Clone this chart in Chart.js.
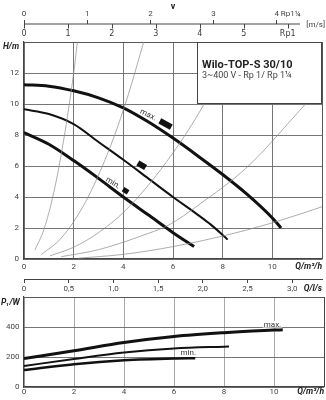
<!DOCTYPE html>
<html><head><meta charset="utf-8">
<script src="https://cdn.jsdelivr.net/npm/chart.js@4.4.1/dist/chart.umd.min.js"></script>
<style>
html,body{margin:0;padding:0;background:#fff;width:326px;height:400px;overflow:hidden}
#c1{position:absolute;left:0;top:0}
#c2{position:absolute;left:0;top:294px}
</style></head><body>
<canvas id="c1" width="326" height="296"></canvas>
<canvas id="c2" width="326" height="106"></canvas>
<script>
// ---- data ----
const qMax = [0, 1, 2, 3, 4, 5, 6, 7, 8, 9, 10, 10.35];
const hMax = [11.25, 11.15, 10.85, 10.4, 9.75, 8.85, 7.8, 6.65, 5.45, 4.15, 2.65, 2.0];
const qMid = [0, 1, 2, 3, 4, 5, 6, 7, 7.5, 8, 8.2];
const hMid = [9.66, 9.35, 8.7, 7.55, 6.4, 5.2, 4.0, 2.85, 2.25, 1.55, 1.25];
const qMin = [0, 1, 2, 3, 4, 5, 6, 6.85];
const hMin = [8.15, 7.4, 6.35, 5.2, 4.0, 2.85, 1.7, 0.8];

const qSys1 = [0.44, 0.8, 1.2, 1.6, 2.0, 2.15];
const hSys1 = [0.58, 1.9, 4.3, 7.7, 12.0, 14.0];
const qSys2 = [0.7, 1.5, 2.5, 3.5, 4.2, 4.82];
const hSys2 = [0.29, 1.35, 3.75, 7.35, 10.6, 14.0];
const qSys3 = [1.04, 2, 3, 4, 5, 6, 7, 8, 8.6];
const hSys3 = [0.2, 0.76, 1.7, 3.0, 4.75, 6.85, 9.3, 12.2, 14.0];
const qSys4 = [1.5, 3, 5, 5.84, 7, 9, 11, 12];
const hSys4 = [0.15, 0.6, 1.65, 2.2, 3.45, 5.95, 9.4, 11.2];
const qSys5 = [2.17, 4, 6, 8, 10, 12];
const hSys5 = [0.05, 0.3, 0.8, 1.48, 2.33, 3.37];

const markQ = [5.7, 4.74, 4.09];
const markH = [8.71, 6.05, 4.4];

const pQMax = [0, 2, 4, 6, 8, 10, 10.35];
const pMax  = [190, 242, 297, 337, 362, 380, 381];
const pQMid = [0, 2, 4, 6, 8, 8.2];
const pMid  = [140, 187, 230, 257, 269, 270];
const pQMin = [0, 2, 4, 6, 6.85];
const pMin  = [113, 152, 178, 190, 192];

// axis definitions / tick labels
const qMaxAxis = 12;          // m³/h
const hMaxAxis = 14;          // m
const pMaxAxis = 600;         // W
const lsPerM3h = 1 / 3.6;     // l/s per m³/h
const flowPerVRp1 = 1.77;     // m³/h per m/s (Rp1)
const flowPerVRp114 = 2.545;  // m³/h per m/s (Rp1¼)
const vTicksRp1 = [0, 1, 2, 3, 4, 5, 6];
const vLabelsRp1 = ['0', '1', '2', '3', '4', '5', 'Rp1'];
const legendTitle = 'Wilo-TOP-S 30/10';
const legendSub = '3~400 V - Rp 1/ Rp 1¼';

// ---- styling ----
const FONT = 'Roboto';
const tickFont = {family: FONT, size: 8};
const TICK = '#444';
const GRID = '#666';
const FRAME = '#444';
const SYS = '#8a8a8a';

function fit(h){ return s => { s.height = h; s.paddingLeft = 0; s.paddingRight = 0; }; }
function fitY(w){ return s => { s.width = w; s.paddingTop = 0; s.paddingBottom = 0; }; }
const pts = (xs, ys) => xs.map((x, i) => ({x: x, y: ys[i]}));
function lineDS(xs, ys, w, color){
  return {type: 'line', data: pts(xs, ys), borderColor: color, borderWidth: w,
    pointRadius: 0, fill: false, cubicInterpolationMode: 'monotone', borderCapStyle: 'butt'};
}
function block(w, h){
  const c = document.createElement('canvas'); c.width = w; c.height = h;
  const g = c.getContext('2d'); g.fillStyle = '#111'; g.fillRect(0, 0, w, h); return c;
}
function rotText(ctx, txt, px, py, deg, font, color){
  ctx.save(); ctx.translate(px, py); ctx.rotate(deg * Math.PI / 180);
  ctx.font = font; ctx.fillStyle = color; ctx.textAlign = 'center'; ctx.textBaseline = 'middle';
  ctx.fillText(txt, 0, 0); ctx.restore();
}

const topDeco = {
  id: 'topDeco',
  afterDatasetsDraw(chart){
    const {ctx, chartArea: a, scales: {x, y}} = chart;
    const bx = Math.round(x.getPixelForValue(6.96)), by = Math.round(y.getPixelForValue(10.06));
    ctx.save();
    ctx.fillStyle = '#fff';
    ctx.fillRect(bx, a.top, a.right - bx, by - a.top);
    ctx.strokeStyle = FRAME; ctx.lineWidth = 1;
    ctx.strokeRect(bx + 0.5, Math.round(a.top) + 0.5, a.right - bx - 1, by - Math.round(a.top));
    ctx.fillStyle = '#222'; ctx.textAlign = 'left'; ctx.textBaseline = 'middle';
    ctx.font = 'bold 11px ' + FONT; ctx.fillText(legendTitle, bx + 5, a.top + 23);
    ctx.fillStyle = '#444';
    ctx.font = '9px ' + FONT; ctx.fillText(legendSub, bx + 5, a.top + 34);
    rotText(ctx, 'max.', x.getPixelForValue(5.0), y.getPixelForValue(9.29), 26, '8px ' + FONT, '#333');
    rotText(ctx, 'min.', x.getPixelForValue(3.58), y.getPixelForValue(4.9), 32, '8px ' + FONT, '#333');
    ctx.restore();
  },
  afterDraw(chart){
    const {ctx, chartArea: a, scales: {x, v2}} = chart;
    ctx.save();
    // velocity axis line
    const ly = Math.round(v2.bottom);
    ctx.strokeStyle = FRAME; ctx.lineWidth = 1;
    ctx.beginPath(); ctx.moveTo(a.left, ly); ctx.lineTo(a.right - 22, ly); ctx.stroke();
    // Rp1 row: downward tick marks and labels below the line (positioned through the Q scale)
    for (let i = 0; i < vTicksRp1.length; i++) {
      const px = Math.round(x.getPixelForValue(vTicksRp1[i] * flowPerVRp1)) + 0.5;
      ctx.strokeStyle = '#444'; ctx.lineWidth = 1;
      ctx.beginPath(); ctx.moveTo(px, ly); ctx.lineTo(px, ly + 4.5); ctx.stroke();
    }
    ctx.font = '8px "DejaVu Sans"';
    ctx.textAlign = 'center';
    ctx.textBaseline = 'middle';
    ctx.fillStyle = '#3a3a3a';
    for (let i = 0; i < vTicksRp1.length; i++) {
      const px = x.getPixelForValue(vTicksRp1[i] * flowPerVRp1);
      ctx.fillText(vLabelsRp1[i], px, ly + 10);
    }
    ctx.fillStyle = TICK;
    ctx.font = '8px ' + FONT;
    ctx.textAlign = 'left';
    ctx.fillText('Rp1¼', v2.getPixelForValue(4) + 4, 14);
    ctx.textAlign = 'right';
    ctx.fillText('[m/s]', 325, ly + 1);
    ctx.fillStyle = '#222';
    ctx.font = 'bold 9px ' + FONT; ctx.textAlign = 'center';
    ctx.fillText('v', x.getPixelForValue(6), 7);
    ctx.font = 'italic bold 8.5px ' + FONT; ctx.textAlign = 'left';
    ctx.fillText('H/m', 3, a.top + 5);
    ctx.textAlign = 'right';
    ctx.fillText('Q/m³/h', a.right, 267);
    ctx.fillText('Q/l/s', a.right, 288.5);
    ctx.restore();
  }
};

new Chart(document.getElementById('c1'), {
  type: 'line',
  data: {datasets: [
    lineDS(qSys1, hSys1, 0.7, SYS),
    lineDS(qSys2, hSys2, 0.7, SYS),
    lineDS(qSys3, hSys3, 0.7, SYS),
    lineDS(qSys4, hSys4, 0.7, SYS),
    lineDS(qSys5, hSys5, 0.7, SYS),
    lineDS(qMax, hMax, 3, '#111'),
    lineDS(qMid, hMid, 2, '#111'),
    lineDS(qMin, hMin, 3, '#111'),
    {type: 'scatter', data: pts(markQ, markH), pointStyle: [block(13, 6), block(9, 6), block(6, 5)],
     rotation: [28, 30, 32], pointRadius: 4, borderWidth: 0}
  ]},
  options: {
    responsive: false, animation: false, devicePixelRatio: 1,
    layout: {padding: {left: 0, right: 2, top: 0, bottom: 0}},
    plugins: {legend: {display: false}, tooltip: {enabled: false}},
    scales: {
      x: {type: 'linear', position: 'bottom', weight: 0, min: 0, max: qMaxAxis,
        ticks: {stepSize: 2, font: tickFont, color: TICK, padding: 3, maxRotation: 0, autoSkip: false,
          callback: v => v === qMaxAxis ? '' : String(v)},
        grid: {color: c => c.tick && c.tick.value === qMaxAxis ? FRAME : GRID, lineWidth: 0.9, drawTicks: false},
        border: {color: FRAME, width: 1.2},
        afterFit: fit(20)},
      xls: {type: 'linear', position: 'bottom', weight: 1, min: 0, max: qMaxAxis * lsPerM3h,
        ticks: {stepSize: 0.5, includeBounds: false, font: tickFont, color: TICK, padding: 0.7, maxRotation: 0, autoSkip: false,
          callback: v => v === 0 ? '0' : v.toFixed(1).replace('.', ',')},
        grid: {drawOnChartArea: false, drawTicks: true, tickLength: 4, color: FRAME},
        border: {color: FRAME, width: 1},
        afterFit: fit(17)},
      y: {type: 'linear', position: 'left', min: 0, max: hMaxAxis,
        ticks: {stepSize: 2, font: tickFont, color: TICK, padding: 5,
          callback: v => v === hMaxAxis ? '' : String(v)},
        grid: {color: c => c.tick && c.tick.value === hMaxAxis ? FRAME : GRID, lineWidth: 0.9, drawTicks: false},
        border: {color: FRAME, width: 1.2},
        afterFit: fitY(24)},
      v1: {type: 'linear', position: 'top', weight: 1, min: 0, max: qMaxAxis / flowPerVRp1,
        ticks: {display: false}, grid: {display: false, drawTicks: false}, border: {display: false},
        afterFit: fit(18)},
      v2: {type: 'linear', position: 'top', weight: 2, min: 0, max: qMaxAxis / flowPerVRp114,
        ticks: {stepSize: 1, includeBounds: false, font: tickFont, color: TICK, padding: 1.2, maxRotation: 0, autoSkip: false},
        grid: {drawOnChartArea: false, drawTicks: true, tickLength: 4, color: FRAME},
        border: {display: false},
        afterFit: fit(24)}
    }
  },
  plugins: [topDeco]
});

const botDeco = {
  id: 'botDeco',
  afterDraw(chart){
    const {ctx, chartArea: a, scales: {x, y}} = chart;
    ctx.save();
    ctx.fillStyle = '#222'; ctx.textBaseline = 'middle';
    ctx.font = 'italic bold 8.5px ' + FONT; ctx.textAlign = 'left';
    ctx.fillText('P₁/W', 1, a.top + 6);
    ctx.textAlign = 'right';
    ctx.fillText('Q/m³/h', a.right, 98);
    ctx.font = '8px ' + FONT; ctx.textAlign = 'center';
    [['max.', 9.94, 413], ['min.', 6.57, 225]].forEach(([t, q, p]) => {
      const px = x.getPixelForValue(q), py = y.getPixelForValue(p);
      const w = ctx.measureText(t).width;
      ctx.fillStyle = '#fff'; ctx.fillRect(px - w / 2 - 1, py - 4, w + 2, 6.5);
      ctx.fillStyle = '#333'; ctx.fillText(t, px, py);
    });
    ctx.restore();
  }
};

new Chart(document.getElementById('c2'), {
  type: 'line',
  data: {datasets: [
    lineDS(pQMax, pMax, 3, '#111'),
    lineDS(pQMid, pMid, 2, '#111'),
    lineDS(pQMin, pMin, 2.5, '#111')
  ]},
  options: {
    responsive: false, animation: false, devicePixelRatio: 1,
    layout: {padding: {left: 0, right: 2, top: 3, bottom: 0}},
    plugins: {legend: {display: false}, tooltip: {enabled: false}},
    scales: {
      x: {type: 'linear', min: 0, max: qMaxAxis,
        ticks: {stepSize: 2, font: tickFont, color: TICK, padding: 0.5, maxRotation: 0, autoSkip: false,
          callback: v => v === qMaxAxis ? '' : String(v)},
        grid: {color: c => c.tick && c.tick.value === qMaxAxis ? FRAME : '#aaa', lineWidth: 1, drawTicks: false},
        border: {color: FRAME, width: 1.2},
        afterFit: fit(13)},
      y: {type: 'linear', min: 0, max: pMaxAxis,
        ticks: {stepSize: 200, font: tickFont, color: TICK, padding: 4.5,
          callback: v => v === pMaxAxis ? '' : String(v)},
        grid: {color: c => c.tick && c.tick.value === pMaxAxis ? FRAME : '#666', lineWidth: 0.9, drawTicks: false},
        border: {color: FRAME, width: 1.2},
        afterFit: fitY(24)}
    }
  },
  plugins: [botDeco]
});
</script>
</body></html>
